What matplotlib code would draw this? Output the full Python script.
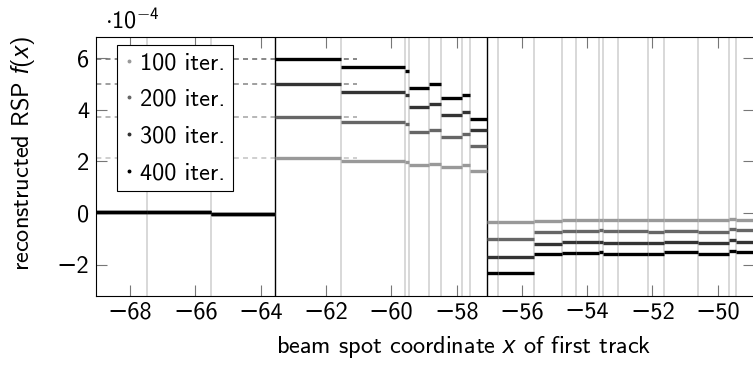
import matplotlib
matplotlib.use("Agg")
import matplotlib.pyplot as plt
from matplotlib.lines import Line2D

plt.rcParams['font.family'] = ['cmss10', 'DejaVu Sans']
plt.rcParams['mathtext.fontset'] = 'custom'
plt.rcParams['mathtext.rm'] = 'cmss10'
plt.rcParams['mathtext.it'] = 'Liberation Sans:italic'
plt.rcParams['axes.unicode_minus'] = True
plt.rcParams['font.size'] = 17.5

# segment edges of the piecewise constant reconstruction (beam spot x)
edges = [-69.6, -67.48, -65.52, -63.56, -61.54, -59.58, -59.45, -58.83,
         -58.48, -57.84, -57.59, -57.07, -56.73, -55.63, -54.77, -54.35,
         -53.63, -53.52, -53.06, -52.13, -51.64, -50.60, -49.65, -49.43,
         -48.5]
region_bounds = [-63.56, -57.07]

# reconstructed RSP per segment, in units of 1e-4
rsp_100 = [0.03, 0.03, -0.04, 2.15, 2.03, 1.98, 1.86, 1.90, 1.80, 1.85, 1.63,
           -0.34, -0.34, -0.31, -0.27, -0.27, -0.26, -0.27, -0.27, -0.28,
           -0.27, -0.27, -0.25, -0.27]
rsp_200 = [0.03, 0.03, -0.04, 3.73, 3.52, 3.44, 3.13, 3.23, 2.96, 3.06, 2.60,
           -1.01, -1.01, -0.75, -0.70, -0.70, -0.67, -0.70, -0.70, -0.72,
           -0.69, -0.73, -0.62, -0.66]
rsp_300 = [0.03, 0.03, -0.04, 5.01, 4.71, 4.58, 4.12, 4.22, 3.82, 3.93, 3.22,
           -1.70, -1.70, -1.20, -1.14, -1.14, -1.12, -1.15, -1.15, -1.17,
           -1.11, -1.18, -1.05, -1.11]
rsp_400 = [0.03, 0.03, -0.04, 5.98, 5.68, 5.51, 4.84, 5.00, 4.45, 4.57, 3.64,
           -2.34, -2.34, -1.58, -1.55, -1.55, -1.50, -1.59, -1.59, -1.59,
           -1.53, -1.59, -1.48, -1.53]
labels = ['100 iter.', '200 iter.', '300 iter.', '400 iter.']
colors = ['#999999', '#666666', '#333333', '#000000']
series = [rsp_100, rsp_200, rsp_300, rsp_400]

x_ticks = list(range(-68, -49, 2))
y_ticks = list(range(-2, 7, 2))
dash_end = -61.05

fig = plt.figure(figsize=(7.53, 3.66), dpi=100)
ax = fig.add_axes([96 / 753, 70 / 366, 658 / 753, 259 / 366])
ax.set_xlim(-69.04, -48.89)
ax.set_ylim(-3.22, 6.83)

# segment boundaries
for e in edges[1:-1]:
    if e in region_bounds:
        ax.axvline(e, color='black', lw=1.0, zorder=1.5)
    else:
        ax.axvline(e, color='#d2d2d2', lw=1.2, zorder=0.5)

# dashed reference levels of the first segment right of the boundary
for vals, c in zip(series, colors):
    ax.hlines(vals[3], edges[0], dash_end, colors=c, lw=1.2, alpha=0.55,
              linestyles=(0, (3, 2.5)), zorder=1)

for vals, c in zip(series, colors):
    for i, v in enumerate(vals):
        ax.plot([edges[i], edges[i + 1]], [v, v], color=c, lw=2.4,
                solid_capstyle='butt', zorder=2)

ax.set_xticks(x_ticks)
ax.set_xticklabels(['\u2212%d' % -t for t in x_ticks])
ax.set_yticks(y_ticks)
ax.set_yticklabels([('\u2212%d' % -t) if t < 0 else '%d' % t for t in y_ticks])
ax.tick_params(direction='in', length=8, width=0.8, color='#777777',
               top=True, right=True)
ax.tick_params(axis='x', pad=4)
ax.tick_params(axis='y', pad=5)
for s in ax.spines.values():
    s.set_linewidth(0.8)

ax.set_xlabel(r'beam spot coordinate $x$ of first track')
ax.xaxis.set_label_coords(0.559, -0.147)
ax.set_ylabel(r'reconstructed RSP $f(x)$')
ax.yaxis.set_label_coords(-0.09, 0.552)

fig.text(105 / 753, 1 - 28 / 366, r'$\cdot 10^{-4}$', ha='left',
         va='baseline')

handles = [Line2D([], [], ls='none', marker='o', markersize=1.8, color=c,
                  label=l) for c, l in zip(colors, labels)]
leg = ax.legend(handles=handles, loc='upper left',
                bbox_to_anchor=(0.032, 0.969), handlelength=0.35,
                handletextpad=0.3, labelspacing=0.6, borderpad=0.3,
                borderaxespad=0, fancybox=False, framealpha=1,
                edgecolor='black')
leg.get_frame().set_linewidth(0.8)
leg.set_zorder(5)

fig.savefig('out.png', dpi=100)
